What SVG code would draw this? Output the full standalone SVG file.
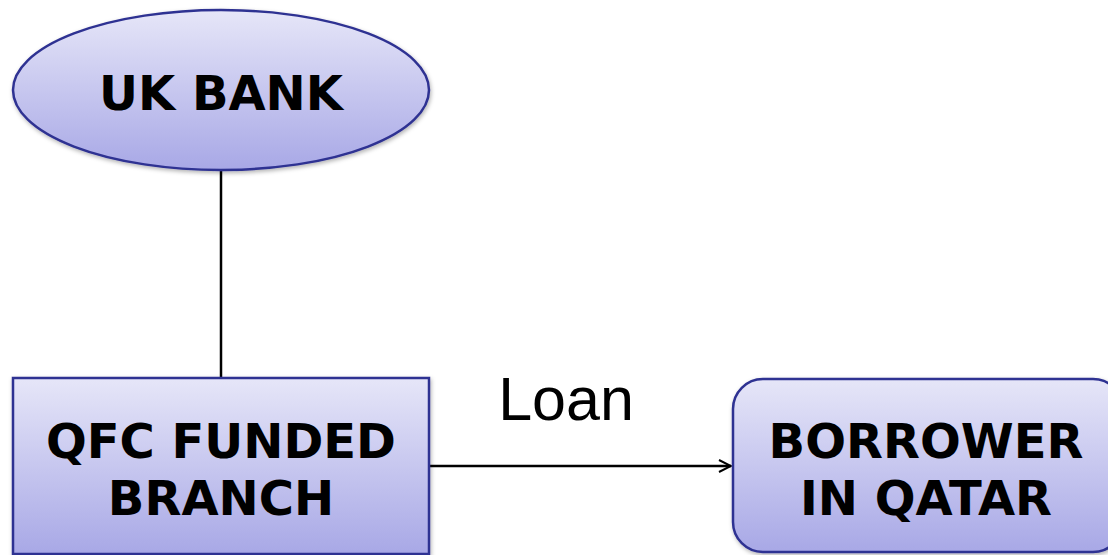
<svg xmlns="http://www.w3.org/2000/svg" width="1108" height="555" viewBox="0 0 1108 555">
<defs>
<linearGradient id="g" x1="0" y1="0" x2="0" y2="1">
<stop offset="0" stop-color="#e6e6f8"/>
<stop offset="1" stop-color="#a8a8e6"/>
</linearGradient>
<filter id="sh" x="-10%" y="-10%" width="120%" height="120%">
<feDropShadow dx="1" dy="2" stdDeviation="2" flood-color="#000" flood-opacity="0.3"/>
</filter>
<marker id="arr" markerWidth="14" markerHeight="14" refX="13" refY="7" orient="auto" markerUnits="userSpaceOnUse">
<path d="M1,1 L13,7 L1,13" fill="none" stroke="#000" stroke-width="2"/>
</marker>
</defs>
<style>
.node{fill:url(#g);stroke:#2e3192;stroke-width:2.5;filter:url(#sh)}
.lbl{font-family:"DejaVu Sans",Verdana,sans-serif;font-weight:bold;font-size:48px;fill:#000;text-anchor:middle}
.edge{stroke:#000;stroke-width:2.5;fill:none}
</style>
<g id="connectors">
<line class="edge" x1="221" y1="170" x2="221" y2="378"/>
<line class="edge" x1="429" y1="466" x2="731" y2="466" marker-end="url(#arr)"/>
<text x="566" y="420" font-family="Liberation Sans,Arial,sans-serif" font-size="61" text-anchor="middle" fill="#000">Loan</text>
</g>
<g id="uk-bank">
<ellipse class="node" cx="221" cy="90" rx="208" ry="80"/>
<text class="lbl" x="221" y="110">UK BANK</text>
</g>
<g id="qfc-branch">
<rect class="node" x="13" y="378" width="416" height="176"/>
<text class="lbl" x="221" y="458">QFC FUNDED</text>
<text class="lbl" x="221" y="515">BRANCH</text>
</g>
<g id="borrower">
<rect class="node" x="733" y="379" width="390" height="173" rx="30" ry="30"/>
<text class="lbl" x="926" y="458">BORROWER</text>
<text class="lbl" x="926" y="515">IN QATAR</text>
</g>
</svg>
